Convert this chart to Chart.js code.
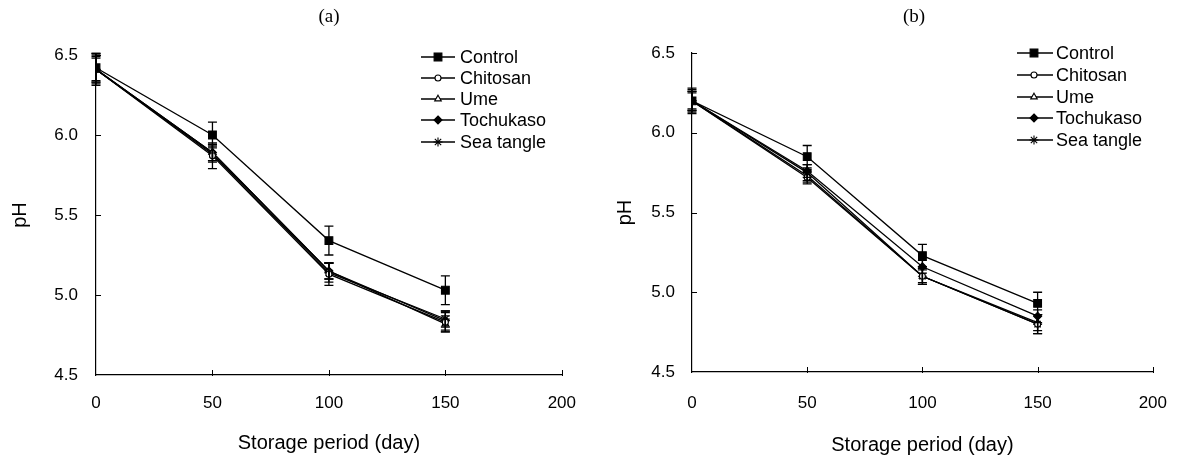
<!DOCTYPE html>
<html><head><meta charset="utf-8">
<script src="https://cdn.jsdelivr.net/npm/chart.js@4.4.1/dist/chart.umd.min.js"></script>
<style>
html,body{margin:0;padding:0;background:#fff;}
#wrap{position:relative;width:1188px;height:460px;background:#fff;}
.p{position:absolute;top:0;width:594px;height:460px;}
</style></head><body>
<div id="wrap">
  <div class="p" style="left:0"><canvas id="ca" width="594" height="460"></canvas></div>
  <div class="p" style="left:594px"><canvas id="cb" width="594" height="460"></canvas></div>
</div>
<script>
// ---- data ----
const days = [0, 50, 100, 150];
const seriesNames = ['Control', 'Chitosan', 'Ume', 'Tochukaso', 'Sea tangle'];
const xTicks = [0, 50, 100, 150, 200];
const yTicks = [4.5, 5.0, 5.5, 6.0, 6.5];

// panel (a)
const controlA   = [6.42, 6.00, 5.34, 5.03];
const chitosanA  = [6.41, 5.87, 5.13, 4.83];
const umeA       = [6.41, 5.89, 5.15, 4.82];
const tochukasoA = [6.41, 5.89, 5.15, 4.84];
const seaTangleA = [6.41, 5.88, 5.14, 4.85];
const controlAErr   = [0.09, 0.08, 0.09, 0.09];
const chitosanAErr  = [0.10, 0.08, 0.07, 0.06];
const umeAErr       = [0.07, 0.05, 0.05, 0.05];
const tochukasoAErr = [0.09, 0.05, 0.05, 0.06];
const seaTangleAErr = [0.08, 0.05, 0.06, 0.05];

// panel (b)
const controlB   = [6.20, 5.85, 5.23, 4.93];
const chitosanB  = [6.20, 5.72, 5.10, 4.80];
const umeB       = [6.20, 5.73, 5.10, 4.81];
const tochukasoB = [6.20, 5.76, 5.16, 4.85];
const seaTangleB = [6.20, 5.75, 5.10, 4.80];
const controlBErr   = [0.08, 0.07, 0.07, 0.07];
const chitosanBErr  = [0.07, 0.04, 0.04, 0.06];
const umeBErr       = [0.06, 0.04, 0.05, 0.05];
const tochukasoBErr = [0.05, 0.04, 0.04, 0.04];
const seaTangleBErr = [0.06, 0.05, 0.05, 0.06];

// ---- styles ----
const FONT = "'Liberation Sans', Arial, sans-serif";
const pStyles = ['rect', 'circle', 'triangle', 'rectRot', 'star'];
const pRadii  = [5.5, 3, 3.8, 4, 4.5];
const pFills  = ['#000', '#fff', '#fff', '#000', '#000'];

function drawMarker(ctx, style, r, fill, x, y) {
  ctx.save();
  ctx.strokeStyle = '#000'; ctx.fillStyle = fill; ctx.lineWidth = 1.1;
  ctx.beginPath();
  if (style === 'rect') {
    const s = r * Math.SQRT1_2;
    ctx.rect(x - s, y - s, 2 * s, 2 * s); ctx.fill(); ctx.stroke();
  } else if (style === 'circle') {
    ctx.arc(x, y, r, 0, Math.PI * 2); ctx.fill(); ctx.stroke();
  } else if (style === 'triangle') {
    ctx.moveTo(x, y - r);
    ctx.lineTo(x + r * Math.cos(Math.PI / 6), y + r * 0.5);
    ctx.lineTo(x - r * Math.cos(Math.PI / 6), y + r * 0.5);
    ctx.closePath(); ctx.fill(); ctx.stroke();
  } else if (style === 'rectRot') {
    ctx.moveTo(x, y - r); ctx.lineTo(x + r, y); ctx.lineTo(x, y + r); ctx.lineTo(x - r, y);
    ctx.closePath(); ctx.fill(); ctx.stroke();
  } else if (style === 'star') {
    const d = r * Math.SQRT1_2;
    ctx.moveTo(x - r, y); ctx.lineTo(x + r, y);
    ctx.moveTo(x, y - r); ctx.lineTo(x, y + r);
    ctx.moveTo(x - d, y - d); ctx.lineTo(x + d, y + d);
    ctx.moveTo(x - d, y + d); ctx.lineTo(x + d, y - d);
    ctx.stroke();
  }
  ctx.restore();
}

const errorBars = {
  id: 'errorBars',
  afterDatasetsDraw(chart) {
    const ctx = chart.ctx, xs = chart.scales.x, ys = chart.scales.y;
    ctx.save(); ctx.strokeStyle = '#000'; ctx.lineWidth = 1.3;
    chart.data.datasets.forEach(ds => {
      ds.errors.forEach((e, i) => {
        const pt = ds.data[i];
        const x = xs.getPixelForValue(pt.x);
        const y1 = ys.getPixelForValue(pt.y + e), y2 = ys.getPixelForValue(pt.y - e);
        ctx.beginPath();
        ctx.moveTo(x, y1); ctx.lineTo(x, y2);
        ctx.moveTo(x - 4.5, y1); ctx.lineTo(x + 4.5, y1);
        ctx.moveTo(x - 4.5, y2); ctx.lineTo(x + 4.5, y2);
        ctx.stroke();
      });
    });
    ctx.restore();
  }
};

const innerTicks = {
  id: 'innerTicks',
  afterDraw(chart) {
    const ctx = chart.ctx, xs = chart.scales.x, ys = chart.scales.y;
    const ca = chart.chartArea;
    ctx.save(); ctx.strokeStyle = '#000'; ctx.lineWidth = 1;
    ctx.beginPath();
    xTicks.forEach(v => {
      if (v === 0) return;
      const x = Math.round(xs.getPixelForValue(v)) + 0.5;
      ctx.moveTo(x, ca.bottom - 5); ctx.lineTo(x, ca.bottom + 1);
    });
    yTicks.forEach(v => {
      if (v === 4.5) return;
      const y = Math.round(ys.getPixelForValue(v)) + 0.5;
      ctx.moveTo(ca.left, y); ctx.lineTo(ca.left + 5, y);
    });
    ctx.stroke();
    ctx.restore();
  }
};

const panelDecor = {
  id: 'panelDecor',
  afterDraw(chart, args, o) {
    const ctx = chart.ctx;
    ctx.save();
    ctx.fillStyle = '#000';
    ctx.font = "19px 'Liberation Serif', 'Times New Roman', serif";
    ctx.textAlign = 'center'; ctx.textBaseline = 'middle';
    ctx.fillText(o.title, o.titleX, 17);
    // legend
    ctx.font = '18px ' + FONT;
    ctx.textAlign = 'left';
    seriesNames.forEach((n, k) => {
      const y = o.legY[k];
      ctx.strokeStyle = '#000'; ctx.lineWidth = 1.3;
      ctx.beginPath(); ctx.moveTo(o.l0, y); ctx.lineTo(o.l1, y); ctx.stroke();
      drawMarker(ctx, pStyles[k], pRadii[k], pFills[k], o.lm, y);
      ctx.fillStyle = '#000';
      ctx.fillText(n, o.lt, y + 1);
    });
    ctx.restore();
  }
};

function makeChart(id, values, errs, cfg) {
  const datasets = values.map((vals, k) => ({
    label: seriesNames[k],
    data: days.map((d, i) => ({ x: d, y: vals[i] })),
    errors: errs[k],
    borderColor: '#000',
    borderWidth: 1.3,
    pointStyle: pStyles[k],
    pointRadius: pRadii[k],
    pointBackgroundColor: pFills[k],
    pointBorderColor: '#000',
    pointBorderWidth: 1.1,
    tension: 0,
    fill: false
  }));
  return new Chart(document.getElementById(id), {
    type: 'line',
    data: { datasets },
    options: {
      responsive: false,
      animation: false,
      events: [],
      layout: { padding: { top: cfg.top, right: cfg.right, left: 0, bottom: 0 } },
      plugins: {
        legend: { display: false },
        tooltip: { enabled: false },
        panelDecor: cfg.decor
      },
      scales: {
        x: {
          type: 'linear', min: 0, max: 200,
          afterBuildTicks: s => { s.ticks = xTicks.map(v => ({ value: v })); },
          ticks: { padding: cfg.xpad, color: '#000', font: { family: FONT, size: 17 }, maxRotation: 0 },
          grid: { display: false, drawTicks: false },
          border: { display: true, color: '#000', width: 1.2 },
          title: { display: true, text: 'Storage period (day)', color: '#000', font: { family: FONT, size: 20 }, padding: { top: 0, bottom: cfg.xtb } },
          afterFit: s => { s.height = cfg.xh; }
        },
        y: {
          type: 'linear', min: 4.5, max: 6.5,
          afterBuildTicks: s => { s.ticks = yTicks.map(v => ({ value: v })); },
          ticks: { padding: cfg.ypad, color: '#000', font: { family: FONT, size: 17 }, callback: v => Number(v).toFixed(1) },
          grid: { display: false, drawTicks: false },
          border: { display: true, color: '#000', width: 1.2 },
          title: { display: true, text: 'pH', color: '#000', font: { family: FONT, size: 20 }, padding: { top: cfg.ytt, bottom: 0 } },
          afterFit: s => { s.width = cfg.yw; }
        }
      }
    },
    plugins: [errorBars, innerTicks, panelDecor]
  });
}

makeChart('ca',
  [controlA, chitosanA, umeA, tochukasoA, seaTangleA],
  [controlAErr, chitosanAErr, umeAErr, tochukasoAErr, seaTangleAErr],
  { top: 55, right: 31, xh: 85, yw: 96, xpad: 18, xtb: 5, ypad: 18, ytt: 8,
    decor: { title: '(a)', titleX: 329, l0: 421, l1: 455, lm: 438, lt: 460, legY: [57, 78, 99, 120, 142] } });

makeChart('cb',
  [controlB, chitosanB, umeB, tochukasoB, seaTangleB],
  [controlBErr, chitosanBErr, umeBErr, tochukasoBErr, seaTangleBErr],
  { top: 53, right: 22, xh: 88, yw: 98, xpad: 21, xtb: 3, ypad: 17, ytt: 19,
    decor: { title: '(b)', titleX: 320, l0: 423, l1: 459, lm: 440, lt: 462, legY: [53, 75, 97, 118, 140] } });
</script>
</body></html>
